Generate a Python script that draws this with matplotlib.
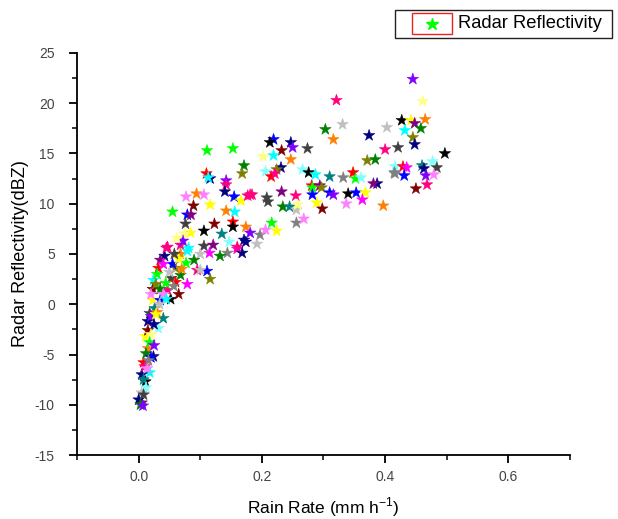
#!/usr/bin/env python3
#
# Radar reflectivity vs rain rate, star scatter (Origin style look)
#
import matplotlib
matplotlib.use('Agg')
import matplotlib.pyplot as plt
from matplotlib.lines import Line2D
from matplotlib.patches import Rectangle
from matplotlib.ticker import MultipleLocator

plt.rcParams['font.family'] = ['Liberation Sans', 'DejaVu Sans']
plt.rcParams['axes.unicode_minus'] = False

# Rain rate (mm/h) and reflectivity (dBZ)
rain_rate = [
    0.445, 0.321, 0.461, 0.303, 0.331, 0.316, 0.374, 0.403, 0.427, 0.442,
    0.448, 0.465, 0.458, 0.432, 0.445, 0.448, 0.400, 0.421, 0.497, 0.371,
    0.384, 0.416, 0.429, 0.435, 0.415, 0.431, 0.460, 0.463, 0.477, 0.484,
    0.466, 0.479, 0.468, 0.450,
    0.219, 0.213, 0.247, 0.250, 0.232, 0.274, 0.202, 0.219, 0.247, 0.231,
    0.224, 0.206, 0.215, 0.221, 0.266, 0.276, 0.287, 0.310, 0.332, 0.348,
    0.352, 0.361, 0.387, 0.381, 0.416, 0.281, 0.282, 0.294, 0.297, 0.310,
    0.316, 0.340, 0.353, 0.368, 0.232, 0.255, 0.208, 0.184, 0.289, 0.298,
    0.337, 0.363, 0.397, 0.282,
    0.111, 0.153, 0.171, 0.168, 0.110, 0.116, 0.113, 0.142, 0.142, 0.140,
    0.155, 0.166, 0.177, 0.077, 0.094, 0.106, 0.116, 0.089, 0.055, 0.079,
    0.085, 0.142, 0.156, 0.076, 0.123, 0.153, 0.153, 0.174, 0.106, 0.135,
    0.084, 0.074, 0.068, 0.081, 0.047, 0.106, 0.121, 0.147, 0.171, 0.160,
    0.144, 0.168, 0.132, 0.115, 0.100, 0.068, 0.042,
    0.181, 0.210, 0.234, 0.245, 0.256, 0.258, 0.181, 0.197, 0.206, 0.216,
    0.224, 0.256, 0.268, 0.174, 0.192, 0.160, 0.079, 0.111, 0.116, 0.090,
    0.077, 0.095, 0.079,
    0.045, 0.035, 0.032, 0.024, 0.023, 0.023, 0.035, 0.052, 0.065, 0.100,
    0.068, 0.060, 0.053, 0.047, 0.044, 0.018, 0.015, 0.040, 0.032, 0.011,
    0.024, 0.015, 0.008, 0.018, 0.005, 0.011, 0.005, 0.005, 0.000,
    0.030, 0.028, 0.035, 0.040, 0.045, 0.020, 0.026, 0.030, 0.020, 0.025,
    0.015, 0.020, 0.018, 0.025, 0.012, 0.020, 0.010, 0.014, 0.008, 0.012,
    0.008, 0.003, 0.007, 0.055, 0.050, 0.060, 0.065, 0.058, 0.040, 0.070,
    0.072, 0.062, 0.057, 0.034, 0.028, 0.016,
]
reflectivity = [
    22.4, 20.3, 20.2, 17.4, 17.9, 16.4, 16.8, 17.6, 18.3, 18.3,
    18.0, 18.4, 17.5, 17.3, 16.6, 15.9, 15.4, 15.6, 15.0, 14.3,
    14.4, 13.7, 13.7, 13.6, 13.1, 12.8, 13.8, 13.5, 14.2, 13.6,
    12.8, 12.9, 11.9, 11.5,
    16.4, 16.1, 16.1, 15.6, 15.3, 15.5, 14.7, 14.8, 14.4, 13.6,
    13.4, 13.2, 12.7, 13.0, 13.4, 13.1, 12.9, 12.7, 12.6, 13.1,
    12.5, 12.6, 12.0, 12.0, 13.0, 11.8, 11.6, 11.8, 11.6, 11.1,
    10.9, 11.0, 11.1, 11.1, 11.2, 10.8, 10.6, 10.9, 10.1, 9.5,
    10.0, 10.4, 9.8, 10.9,
    15.3, 15.5, 13.8, 13.0, 13.0, 12.5, 12.6, 12.3, 11.9, 11.2,
    10.7, 10.3, 10.8, 10.7, 11.0, 10.9, 9.9, 9.8, 9.2, 8.9,
    8.9, 9.3, 9.2, 8.0, 8.0, 8.2, 7.7, 7.7, 7.3, 7.0,
    7.1, 7.0, 5.9, 5.6, 5.7, 5.8, 5.9, 6.2, 6.4, 5.5,
    5.1, 5.1, 4.8, 5.1, 5.0, 5.0, 4.8,
    10.9, 10.2, 9.7, 9.7, 9.4, 9.9, 7.1, 6.9, 7.4, 8.1,
    7.3, 8.1, 8.5, 6.2, 6.0, 5.7, 5.3, 3.3, 2.5, 4.4,
    4.1, 3.4, 2.0,
    5.6, 4.4, 3.6, 2.4, 1.5, 0.4, 0.4, 0.5, 1.0, 3.4,
    2.9, 3.6, 2.6, 1.4, 2.1, -0.9, -1.7, -1.4, -2.4, -3.2,
    -5.2, -4.4, -5.8, -6.8, -7.0, -7.7, -8.8, -9.8, -9.5,
    3.0, 2.0, 1.5, 1.0, 0.5, 1.0, -0.4, -0.8, -1.2, -2.0,
    -2.6, -3.0, -3.8, -4.1, -4.9, -5.3, -6.2, -6.4, -7.5, -8.3,
    -9.0, -10.0, -10.1, 4.0, 3.2, 2.2, 4.5, 5.0, 4.0, 3.5,
    6.3, 6.6, 1.8, 0.0, -1.0, -5.6,
]

# Origin style colour names, one per star (same order as above)
point_colors = [
    'violet', 'pink', 'ltyellow', 'dkgreen', 'ltgray', 'orange', 'navy', 'ltgray', 'black', 'yellow',
    'purple', 'orange', 'dkgreen', 'cyan', 'olive', 'navy', 'pink', 'dkgray', 'black', 'olive',
    'dkgreen', 'ltcyan', 'red', 'magenta', 'gray', 'blue', 'dkcyan', 'navy', 'ltcyan', 'dkgray',
    'violet', 'ltmagenta', 'pink', 'wine',
    'blue', 'black', 'navy', 'violet', 'wine', 'dkgray', 'ltyellow', 'cyan', 'orange', 'navy',
    'olive', 'ltcyan', 'red', 'pink', 'ltcyan', 'black', 'cyan', 'dkcyan', 'gray', 'red',
    'green', 'ltcyan', 'navy', 'purple', 'gray', 'red', 'green', 'purple', 'olive', 'blue',
    'violet', 'black', 'blue', 'yellow', 'purple', 'pink', 'dkgray', 'pink', 'yellow', 'wine',
    'ltmagenta', 'magenta', 'orange', 'blue',
    'green', 'green', 'dkgreen', 'olive', 'red', 'navy', 'cyan', 'violet', 'pink', 'navy',
    'blue', 'yellow', 'pink', 'ltmagenta', 'orange', 'ltmagenta', 'yellow', 'wine', 'green', 'blue',
    'purple', 'orange', 'cyan', 'dkgray', 'wine', 'red', 'black', 'orange', 'black', 'dkcyan',
    'yellow', 'ltyellow', 'pink', 'cyan', 'pink', 'dkgray', 'purple', 'ltcyan', 'navy', 'magenta',
    'gray', 'navy', 'dkgreen', 'magenta', 'ltgray', 'orange', 'navy',
    'pink', 'dkgray', 'dkgreen', 'dkcyan', 'ltgray', 'ltyellow', 'violet', 'gray', 'ltmagenta', 'green',
    'yellow', 'gray', 'ltmagenta', 'navy', 'ltgray', 'pink', 'cyan', 'blue', 'olive', 'dkgreen',
    'green', 'pink', 'magenta',
    'pink', 'purple', 'red', 'cyan', 'wine', 'yellow', 'blue', 'black', 'wine', 'ltgray',
    'dkgreen', 'olive', 'dkgray', 'pink', 'green', 'dkgray', 'navy', 'dkcyan', 'ltcyan', 'yellow',
    'navy', 'orange', 'red', 'cyan', 'navy', 'black', 'ltgray', 'purple', 'navy',
    'green', 'olive', 'dkgreen', 'ltmagenta', 'cyan', 'ltmagenta', 'dkcyan', 'orange', 'violet', 'navy',
    'wine', 'ltyellow', 'green', 'violet', 'dkgreen', 'blue', 'pink', 'ltmagenta', 'dkcyan', 'ltcyan',
    'dkgray', 'dkgreen', 'violet', 'blue', 'ltgray', 'red', 'yellow', 'dkgray', 'magenta', 'orange',
    'violet', 'ltyellow', 'gray', 'ltgray', 'yellow', 'gray',
]

palette = {
    'black': '#000000', 'red': '#FF0000', 'blue': '#0000FF', 'green': '#00FF00',
    'magenta': '#FF00FF', 'yellow': '#FFFF00', 'cyan': '#00FFFF', 'olive': '#808000',
    'navy': '#000080', 'purple': '#800080', 'wine': '#800000', 'dkcyan': '#008080',
    'orange': '#FF8000', 'violet': '#8000FF', 'pink': '#FF0080', 'gray': '#808080',
    'ltgray': '#C0C0C0', 'dkgray': '#404040', 'dkgreen': '#008000', 'ltyellow': '#FFFF80',
    'ltcyan': '#80FFFF', 'ltmagenta': '#FF80FF',
}

fig = plt.figure(figsize=(6.18, 5.19), dpi=100)
ax = fig.add_axes([0.1246, 0.1233, 0.7977, 0.7746])

cols = [palette[c] for c in point_colors]
ax.scatter(rain_rate, reflectivity, marker='*', s=75, c=cols,
           edgecolors=cols, linewidths=0.4, zorder=3)

ax.set_xlim(-0.1, 0.7)
ax.set_ylim(-15, 25)
ax.xaxis.set_major_locator(MultipleLocator(0.2))
ax.xaxis.set_minor_locator(MultipleLocator(0.1))
ax.yaxis.set_major_locator(MultipleLocator(5))
ax.yaxis.set_minor_locator(MultipleLocator(2.5))
ax.xaxis.set_major_formatter(plt.FuncFormatter(lambda v, p: '{:.1f}'.format(v)))

for side in ['top', 'right']:
    ax.spines[side].set_visible(False)
for side in ['left', 'bottom']:
    ax.spines[side].set_linewidth(1.3)

ax.tick_params(which='major', direction='out', length=6, width=1.3,
               labelsize=10, labelcolor='#444444')
ax.tick_params(which='minor', direction='out', length=3.5, width=1.1)
ax.tick_params(axis='x', which='major', pad=5)
ax.tick_params(axis='y', which='major', pad=10)

ax.set_xlabel('Rain Rate (mm h$^{\\mathregular{-1}}$)', fontsize=12.5, labelpad=8)
ax.set_ylabel('Radar Reflectivity(dBZ)', fontsize=13, labelpad=4)

# legend, Origin style: outer box, red frame around the symbol
fig.add_artist(Rectangle((0.639, 0.927), 0.351, 0.054, transform=fig.transFigure,
                         fill=False, edgecolor='#222222', linewidth=1.0))
fig.add_artist(Rectangle((0.667, 0.934), 0.064, 0.040, transform=fig.transFigure,
                         fill=False, edgecolor='#EE2222', linewidth=1.0))
fig.add_artist(Line2D([0.699], [0.954], transform=fig.transFigure, marker='*',
                      markersize=9, color='#00FF00', linestyle='none'))
fig.text(0.741, 0.954, 'Radar Reflectivity', fontsize=13.2, va='center', ha='left')

fig.savefig('out.png', dpi=100)
